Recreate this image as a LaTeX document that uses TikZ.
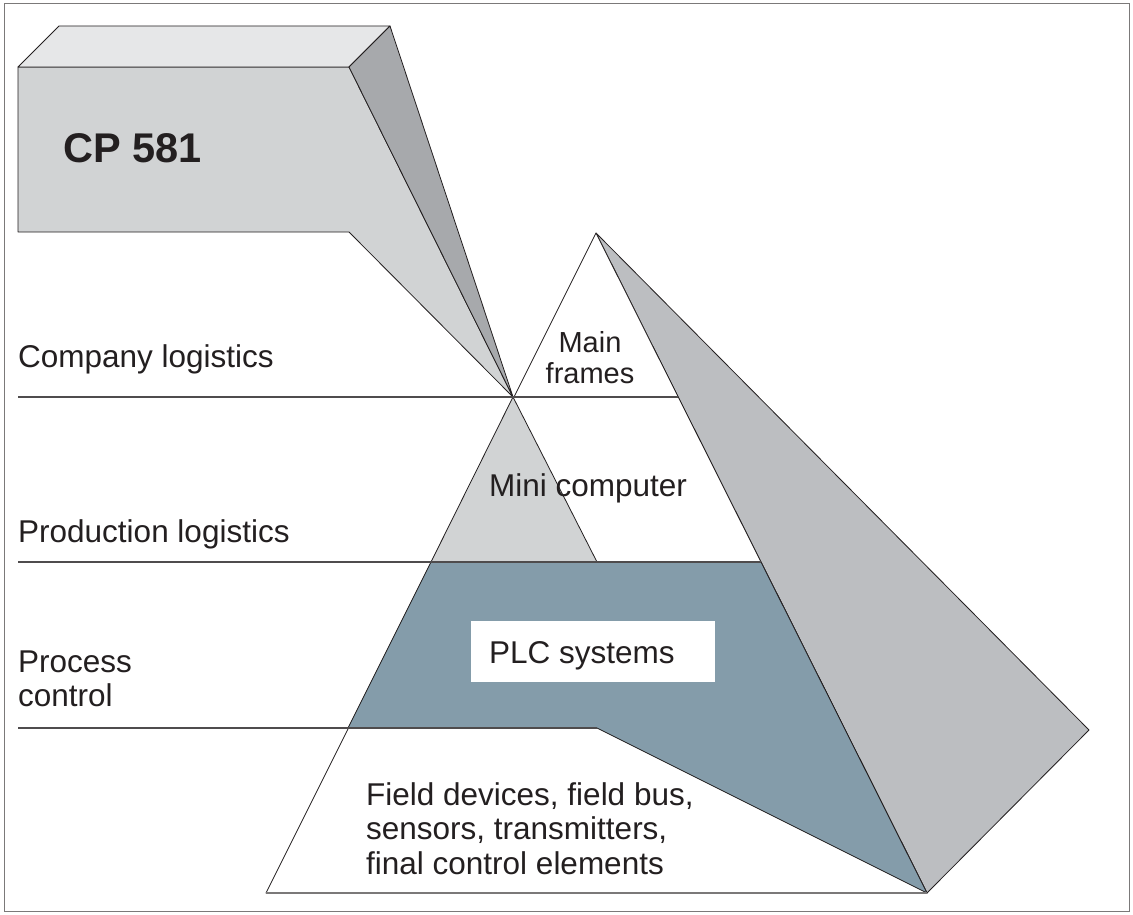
\documentclass[tikz,border=0pt]{standalone}
\usepackage{fontspec}
\setmainfont{Liberation Sans}
\definecolor{boxtop}{HTML}{E6E7E8}
\definecolor{boxfront}{HTML}{D1D3D4}
\definecolor{boxside}{HTML}{A7A9AC}
\definecolor{pyrside}{HTML}{BCBEC1}
\definecolor{plcblue}{HTML}{849CAA}
\definecolor{ink}{HTML}{231F20}

\begin{document}
\begin{tikzpicture}
  [x=1pt,y=-1pt,every node/.style={inner sep=0pt,text=ink,font=\fontsize{31.5}{34.5}\selectfont}]
  \tikzstyle{face} = [draw=ink,line width=0.8pt,line join=round]
  \tikzstyle{level} = [draw=ink!80,line width=1.2pt]
  \tikzstyle{tag} = [anchor=base west,align=left]
  \useasboundingbox (0,0) rectangle (1133,915);
  \draw[ink!60,line width=1pt,fill=white] (4,4) rectangle (1129,911);

  % pyramid corners
  \coordinate (peak) at (596,233);
  \coordinate (wing) at (1089,730);
  \coordinate (bl) at (266,893);
  \coordinate (br) at (927,893);
  \coordinate (hub) at (513,397);
  \coordinate (mr) at (678,397);
  \coordinate (pl) at (431,562);
  \coordinate (pm) at (597,562);
  \coordinate (pr) at (761,562);
  \coordinate (ql) at (348,728);
  \coordinate (qm) at (597,728);

  % box corners
  \coordinate (fa) at (18,67);
  \coordinate (fb) at (349,67);
  \coordinate (fc) at (349,232);
  \coordinate (fd) at (18,232);
  \coordinate (ta) at (59,26);
  \coordinate (tb) at (390,26);

  \draw[face,fill=pyrside] (peak) -- (wing) -- (br) -- cycle;
  \draw[face,fill=white] (peak) -- (br) -- (bl) -- cycle;
  \draw[face,fill=boxfront] (hub) -- (pm) -- (pl) -- cycle;
  \draw[face,fill=plcblue] (pl) -- (pr) -- (br) -- (qm) -- (ql) -- cycle;

  \draw[face,fill=boxfront] (fa) -- (fb) -- (hub) -- (fc) -- (fd) -- cycle;
  \draw[face,fill=boxtop] (fa) -- (ta) -- (tb) -- (fb) -- cycle;
  \draw[face,fill=boxside] (fb) -- (tb) -- (hub) -- cycle;

\foreach \y/\e in {397/mr,562/pr,728/qm}
   \draw[level] (18,\y) -- (\e |- 0,\y);
  \draw[level,draw=ink!60] (bl) -- (br);

  \node[tag,font=\fontsize{41.5}{46}\bfseries] (cp) at (63,163) {CP 581};
  \node[tag] (company) at (18,367) {Company logistics};
  \node[tag] (production) at (18,542) {Production logistics};
  \node[tag] (process) at (18,706.5) {Process\\control};
  \node[anchor=base,align=center,font=\fontsize{29}{31.5}\selectfont] (main) at (590,383.5) {Main\\frames};
  \node[tag] (mini) at (489,496) {Mini computer};
  \node[fill=white,minimum width=244pt,minimum height=61pt] (plcbox) at (593,651.5) {};
  \node[tag] (plc) at (489,663) {PLC systems};
  \node[tag] (field) at (366,874) {Field devices, field bus,\\sensors, transmitters,\\final control elements};
\end{tikzpicture}
\end{document}
